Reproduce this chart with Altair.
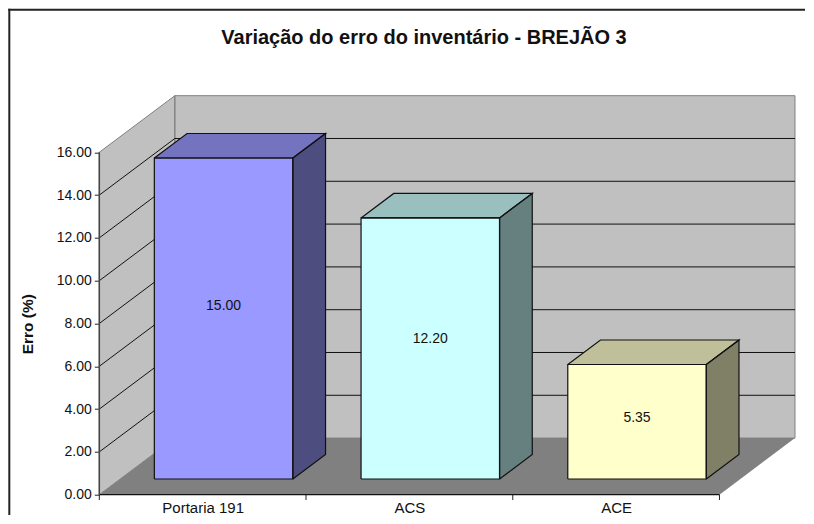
import altair as alt
import pandas as pd

title_text = "Variação do erro do inventário - BREJÃO 3"
y_title = "Erro (%)"
categories = ["Portaria 191", "ACS", "ACE"]
values = [15.00, 12.20, 5.35]
labels = ["15.00", "12.20", "5.35"]
front_colors = ["#9999FF", "#CCFFFF", "#FFFFCC"]
top_colors = ["#7373BF", "#99BFBF", "#BFBF99"]
side_colors = ["#4D4D80", "#668080", "#808066"]
y_ticks = [0, 2, 4, 6, 8, 10, 12, 14, 16]
x_ticks = [0, 1, 2, 3]

VMAX = 16.0
DX = 0.3653   # depth shift, in category units
DY = 2.645    # depth shift, in value units
BAR_W = 0.67
D0, D1 = 0.277, 0.71
FS = 14


def proj(c, v, d):
    return (c + d * DX, v + d * DY)


def area_rows(poly, face, color):
    xs = sorted({round(p[0], 5) for p in poly})
    rows = []
    n = len(poly)
    for x in xs:
        ys = []
        for i in range(n):
            a, b = poly[i], poly[(i + 1) % n]
            lo, hi = min(a[0], b[0]), max(a[0], b[0])
            if lo - 1e-4 <= x <= hi + 1e-4:
                if abs(a[0] - b[0]) < 1e-4:
                    ys += [a[1], b[1]]
                else:
                    ys.append(a[1] + (b[1] - a[1]) * (x - a[0]) / (b[0] - a[0]))
        rows.append(dict(x=x, y=min(ys), y2=max(ys), face=face, color=color))
    return rows


def outline_rows(poly, face):
    return [dict(x=p[0], y=p[1], face=face, o=i) for i, p in enumerate(list(poly) + [poly[0]])]


x_scale = alt.Scale(domain=[0, 3 + DX], nice=False, zero=False)
y_scale = alt.Scale(domain=[0, VMAX + DY], nice=False, zero=False)
x_axis = alt.Axis(
    values=[0.5, 1.5, 2.5], labelExpr=f"{categories}[floor(datum.value)]", domain=False, ticks=False,
    grid=False, title=None, labelFont="Liberation Sans", labelFontSize=15, labelColor="#111111", labelPadding=6,
    labelBound=False, labelFlush=False)
y_axis_def = alt.Axis(
    values=y_ticks, format=".2f", domain=False, grid=False, tickSize=5, tickColor="#222222", title=y_title,
    titleFont="Liberation Sans", titleFontSize=15.5, titleFontWeight="bold", titleColor="#111111",
    titleX=-64, titleY=228, titleAngle=-90, labelFont="Liberation Sans", labelFontSize=FS, labelColor="#111111",
    labelPadding=3)
X = alt.X("x:Q", axis=x_axis, scale=x_scale)
Y = alt.Y("y:Q", axis=y_axis_def, stack=None, scale=y_scale)

# walls and floor
back = [proj(0, 0, 1), proj(3, 0, 1), proj(3, VMAX, 1), proj(0, VMAX, 1)]
left = [proj(0, 0, 0), proj(0, 0, 1), proj(0, VMAX, 1), proj(0, VMAX, 0)]
floor = [proj(0, 0, 0), proj(3, 0, 0), proj(3, 0, 1), proj(0, 0, 1)]
wall_rows = area_rows(back, "back", "#C0C0C0") + area_rows(left, "left", "#C0C0C0") + area_rows(floor, "floor", "#808080")
walls = alt.Chart(pd.DataFrame(wall_rows)).mark_area(opacity=1).encode(
    x=X, y=Y, y2="y2:Q", detail="face:N", color=alt.Color("color:N", scale=None))
wall_lines = alt.Chart(pd.DataFrame(outline_rows(back, "back") + outline_rows(left, "left"))).mark_line(
    color="#808080", strokeWidth=1).encode(x=X, y=Y, detail="face:N", order="o:Q")

# grid lines on walls
grid_rows = []
for v in y_ticks[1:-1]:
    pts = [proj(0, v, 0), proj(0, v, 1), proj(3, v, 1)]
    grid_rows += [dict(x=p[0], y=p[1], face=str(v), o=i) for i, p in enumerate(pts)]
grid = alt.Chart(pd.DataFrame(grid_rows)).mark_line(color="#111111", strokeWidth=1).encode(
    x=X, y=Y, detail="face:N", order="o:Q")

# bars
face_rows, line_rows = [], []
for i, v in enumerate(values):
    a = i + (1 - BAR_W) / 2
    b = a + BAR_W
    front = [proj(a, 0, D0), proj(b, 0, D0), proj(b, v, D0), proj(a, v, D0)]
    top = [proj(a, v, D0), proj(b, v, D0), proj(b, v, D1), proj(a, v, D1)]
    side = [proj(b, 0, D0), proj(b, 0, D1), proj(b, v, D1), proj(b, v, D0)]
    for name, poly, col in [("f", front, front_colors[i]), ("t", top, top_colors[i]), ("s", side, side_colors[i])]:
        face_rows += area_rows(poly, f"{i}{name}", col)
        line_rows += outline_rows(poly, f"{i}{name}")
bars = alt.Chart(pd.DataFrame(face_rows)).mark_area(opacity=1).encode(
    x=X, y=Y, y2="y2:Q", detail="face:N", color=alt.Color("color:N", scale=None))
bar_lines = alt.Chart(pd.DataFrame(line_rows)).mark_line(color="#111111", strokeWidth=1.2).encode(
    x=X, y=Y, detail="face:N", order="o:Q")

# value labels
lab_df = pd.DataFrame([
    dict(x=proj(i + 0.5, 0, D0)[0], y=v * 0.54 + 0.7, t=labels[i]) for i, v in enumerate(values)
])
bar_text = alt.Chart(lab_df).mark_text(font="Liberation Sans", fontSize=FS, color="#111111").encode(
    x=X, y=Y, text="t:N")

# axes
y_axis = alt.Chart(pd.DataFrame({"x": [0, 0], "y": [0, VMAX]})).mark_line(color="#444444", strokeWidth=1.5).encode(x=X, y=Y)
x_domain = alt.Chart(pd.DataFrame({"x": [0, 3], "y": [0, 0]})).mark_line(color="#111111", strokeWidth=1.2).encode(x=X, y=Y)
x_tick_df = pd.DataFrame({"x": x_ticks, "y": [0] * 4, "y2": [-0.25] * 4})
x_tick_marks = alt.Chart(x_tick_df).mark_rule(color="#222222", strokeWidth=1).encode(x=X, y=Y, y2="y2:Q")

# chart frame
frame_left = alt.Chart(pd.DataFrame({"a": [0]})).mark_rule(color="#222222", strokeWidth=2).encode(
    x=alt.value(-90), y=alt.value(-87), y2=alt.value(425))
frame_top = alt.Chart(pd.DataFrame({"a": [0]})).mark_rule(color="#222222", strokeWidth=2).encode(
    y=alt.value(-86), x=alt.value(-91), x2=alt.value(710))

# chart title
title_mark = alt.Chart(pd.DataFrame({"t": [title_text]})).mark_text(
    font="Liberation Sans", fontSize=20, fontWeight="bold", color="#111111", align="center", baseline="middle"
).encode(x=alt.value(324.7), y=alt.value(-57.7), text="t:N")

chart = alt.layer(
    frame_left, frame_top, walls, wall_lines, grid, x_tick_marks, bars, bar_lines, bar_text, x_domain, y_axis, title_mark
).properties(
    width=695.7, height=399,
    autosize=alt.AutoSizeParams(type="none"),
    padding={"left": 91.3, "top": 87.7, "right": 10, "bottom": 20},
).configure_view(stroke=None)

chart.save("out.html", embed_options={"renderer": "svg", "actions": False})
